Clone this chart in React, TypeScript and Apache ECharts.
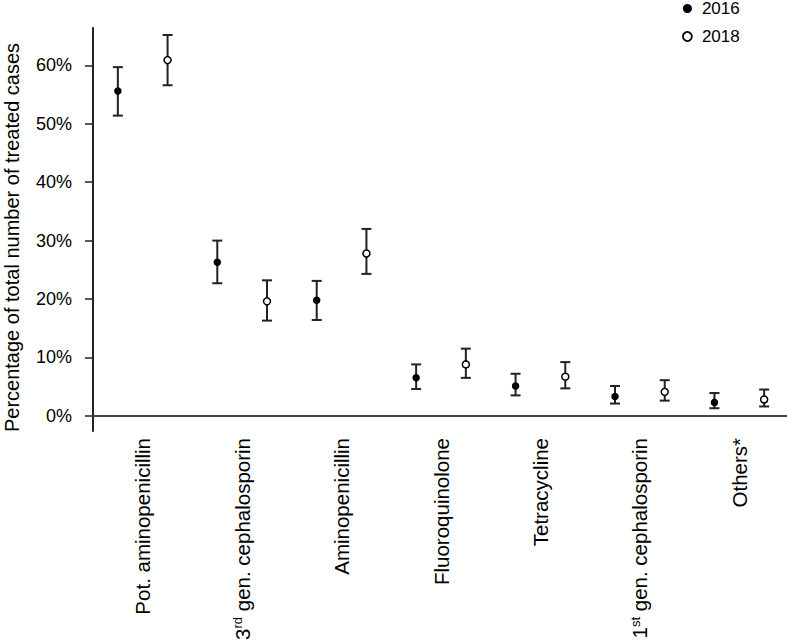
import React, { useEffect, useRef } from "react";
import * as echarts from "echarts";

const categories = [
  "Pot. aminopenicillin",
  "3{sup|rd} gen. cephalosporin",
  "Aminopenicillin",
  "Fluoroquinolone",
  "Tetracycline",
  "1{sup|st} gen. cephalosporin",
  "Others*",
];

// point estimate, lower CI, upper CI (in %)
const values2016 = [55.6, 26.3, 19.8, 6.5, 5.1, 3.3, 2.3];
const lower2016 = [51.4, 22.7, 16.4, 4.6, 3.5, 2.1, 1.3];
const upper2016 = [59.7, 30.0, 23.1, 8.8, 7.2, 5.1, 3.9];

const values2018 = [60.9, 19.6, 27.8, 8.8, 6.7, 4.1, 2.8];
const lower2018 = [56.6, 16.3, 24.3, 6.5, 4.7, 2.6, 1.6];
const upper2018 = [65.2, 23.2, 32.0, 11.5, 9.2, 6.1, 4.5];

const yTicks = [0, 10, 20, 30, 40, 50, 60];

const FONT = "Liberation Sans, Arial, Helvetica, sans-serif";
const INK = "#000";

function makeSeries(name: string, vals: number[], lo: number[], hi: number[], offsetFrac: number, filled: boolean) {
  return {
    name,
    type: "custom",
    data: vals.map((v, i) => [i, v, lo[i], hi[i]]),
    encode: { x: 0, y: 1 },
    itemStyle: { color: filled ? "#000" : "#fff", borderColor: "#000" },
    renderItem: (params: any, api: any) => {
      const x = api.value(0);
      const v = api.value(1);
      const l = api.value(2);
      const h = api.value(3);
      const bw = api.size([1, 0])[0];
      const p = api.coord([x, v]);
      const pl = api.coord([x, l]);
      const ph = api.coord([x, h]);
      const cx = p[0] + bw * offsetFrac;
      const cap = 5;
      const lineStyle = { stroke: "#222", lineWidth: 2 };
      return {
        type: "group",
        children: [
          { type: "line", shape: { x1: cx, y1: ph[1], x2: cx, y2: pl[1] }, style: lineStyle },
          { type: "line", shape: { x1: cx - cap, y1: ph[1], x2: cx + cap, y2: ph[1] }, style: lineStyle },
          { type: "line", shape: { x1: cx - cap, y1: pl[1], x2: cx + cap, y2: pl[1] }, style: lineStyle },
          {
            type: "circle",
            shape: { cx, cy: p[1], r: filled ? 3 : 3.5 },
            style: { fill: filled ? "#000" : "#fff", stroke: "#000", lineWidth: 1.5 },
          },
        ],
      };
    },
  };
}

export default function App() {
  const ref = useRef<HTMLDivElement>(null);
  useEffect(() => {
    if (!ref.current) return;
    const chart = echarts.init(ref.current, undefined, { renderer: "svg" });
    chart.setOption({
      animation: false,
      backgroundColor: "#fff",
      textStyle: { fontFamily: FONT, color: INK },
      legend: {
        orient: "vertical",
        left: 677,
        top: -5,
        itemWidth: 9,
        itemHeight: 9,
        itemGap: 11,
        textStyle: { fontFamily: FONT, fontSize: 17, color: INK, padding: [0, 0, 0, 5] },
        data: [
          { name: "2016", icon: "circle", itemStyle: { color: "#000", borderColor: "#000", borderWidth: 0 } },
          { name: "2018", icon: "circle", itemStyle: { color: "#fff", borderColor: "#000", borderWidth: 1.8 } },
        ],
      },
      grid: { left: 93, right: -2, top: 28, bottom: 212, containLabel: false, outerBoundsMode: "none" },
      xAxis: {
        type: "category",
        data: categories,
        boundaryGap: true,
        axisLine: { show: true, lineStyle: { color: "#444", width: 2 } },
        axisTick: { show: false },
        splitLine: { show: false },
        axisLabel: {
          rotate: 90,
          interval: 0,
          margin: 7,
          fontFamily: FONT,
          fontSize: 20.5,
          color: INK,
          rich: {
            sup: { fontSize: 13, fontFamily: FONT, color: INK, verticalAlign: "top", padding: [0, 0, 9, 0] },
          },
        },
      },
      yAxis: {
        type: "value",
        min: -2.6,
        max: 66.4,
        name: "Percentage of total number of treated cases",
        nameLocation: "middle",
        nameRotate: 90,
        nameGap: 71,
        nameTextStyle: { fontFamily: FONT, fontSize: 20, color: INK, padding: [0, 16, 0, 0] },
        axisLine: { show: true, lineStyle: { color: "#222", width: 2 } },
        axisTick: { show: true, length: 8, lineStyle: { color: "#222", width: 1.5 }, customValues: yTicks },
        splitLine: { show: false },
        axisLabel: {
          customValues: yTicks,
          margin: 21,
          fontFamily: FONT,
          fontSize: 18,
          color: INK,
          formatter: (v: number) => `${Math.round(v)}%`,
        },
      },
      series: [
        makeSeries("2016", values2016, lower2016, upper2016, -0.25, true),
        makeSeries("2018", values2018, lower2018, upper2018, 0.25, false),
      ],
    });
    return () => chart.dispose();
  }, []);
  return (
    <div
      ref={ref}
      style={{ position: "fixed", left: 0, top: 0, width: 787, height: 643, background: "#fff" }}
    />
  );
}
